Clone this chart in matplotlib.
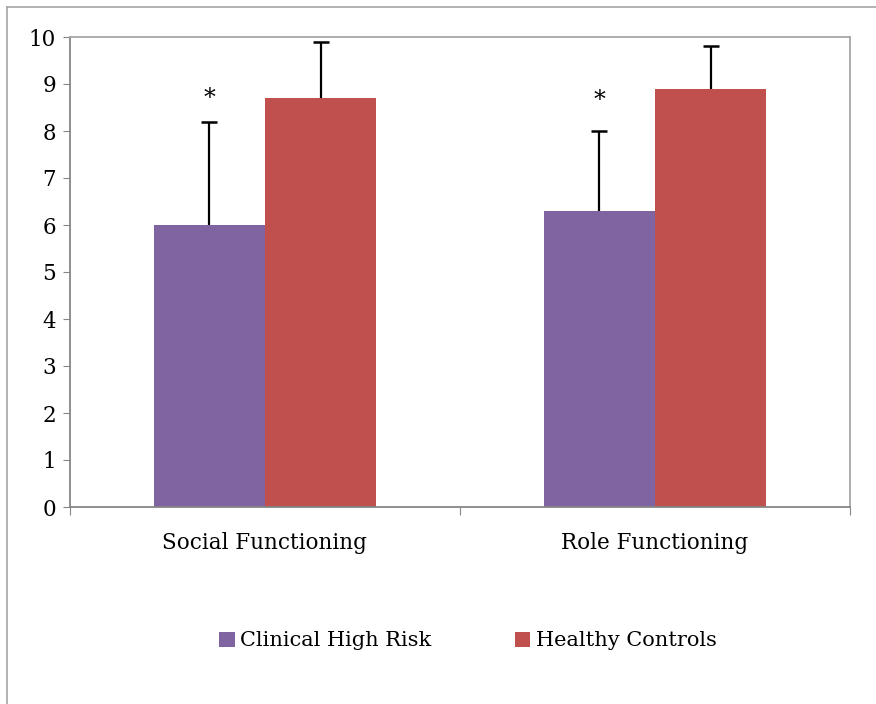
import matplotlib
matplotlib.use("Agg")
import matplotlib.pyplot as plt
from matplotlib.lines import Line2D
from matplotlib.patches import Patch
import numpy as np

categories = ["Social Functioning", "Role Functioning"]
series_names = ["Clinical High Risk", "Healthy Controls"]
chr_values = [6.0, 6.3]
hc_values = [8.7, 8.9]
chr_err = [2.2, 1.7]
hc_err = [1.2, 0.9]
star_y = [8.7, 8.65]
yticks = list(range(0, 11))

colors = ["#8064A2", "#C0504D"]
plt.rcParams['font.family'] = ['DejaVu Serif']

fig = plt.figure(figsize=(8.76, 7.04), dpi=100)
ax = fig.add_axes([70/876, 1-507/704, 780/876, 470/704])

x = np.arange(len(categories))
w = 0.285
ax.bar(x - w/2, chr_values, w, color=colors[0], zorder=2)
ax.bar(x + w/2, hc_values, w, color=colors[1], zorder=2)
for xs, vals, errs in [(x - w/2, chr_values, chr_err), (x + w/2, hc_values, hc_err)]:
    tops = [v + e for v, e in zip(vals, errs)]
    ax.vlines(xs, vals, tops, color='black', lw=1.6, zorder=3)
    ax.plot(xs, tops, ls='none', marker='_', ms=11, mew=1.8, color='black', zorder=3)
for xi, sy in zip(x - w/2, star_y):
    ax.text(xi, sy, "*", ha='center', va='center', fontsize=17)

ax.set_xlim(-0.5, len(categories) - 0.5)
ax.set_ylim(0, 10)
ax.set_yticks(yticks)
ax.set_yticklabels([str(t) for t in yticks], fontsize=15.5)
ax.set_xticks([-0.5, 0.5, 1.5])
ax.set_xticklabels([])
ax.set_xticks(x, minor=True)
ax.set_xticklabels(categories, minor=True, fontsize=15.5)
ax.tick_params(axis='x', which='minor', length=0, pad=18)
ax.tick_params(axis='x', which='major', length=6, color='#868686', direction='out')
ax.tick_params(axis='y', length=5, color='#868686', direction='out', pad=5)
for s in ['left', 'bottom']:
    ax.spines[s].set_color('#868686')
    ax.spines[s].set_linewidth(1.3)
for s in ['top', 'right']:
    ax.spines[s].set_color('#A6A6A6')
    ax.spines[s].set_linewidth(1.3)

handles = [Patch(facecolor=c) for c in colors]
fig.legend(handles, series_names, loc='center', bbox_to_anchor=(468/876, 1-641/704),
           ncol=2, frameon=False, fontsize=15, handlelength=0.75, handleheight=0.75,
           handletextpad=0.25, columnspacing=4.0)

fig.add_artist(Line2D([7/876, 1.0], [1-7/704, 1-7/704], color='#A6A6A6', lw=1.2))
fig.add_artist(Line2D([7/876, 7/876], [0, 1-7/704], color='#A6A6A6', lw=1.2))

fig.savefig("out.png", dpi=100)
